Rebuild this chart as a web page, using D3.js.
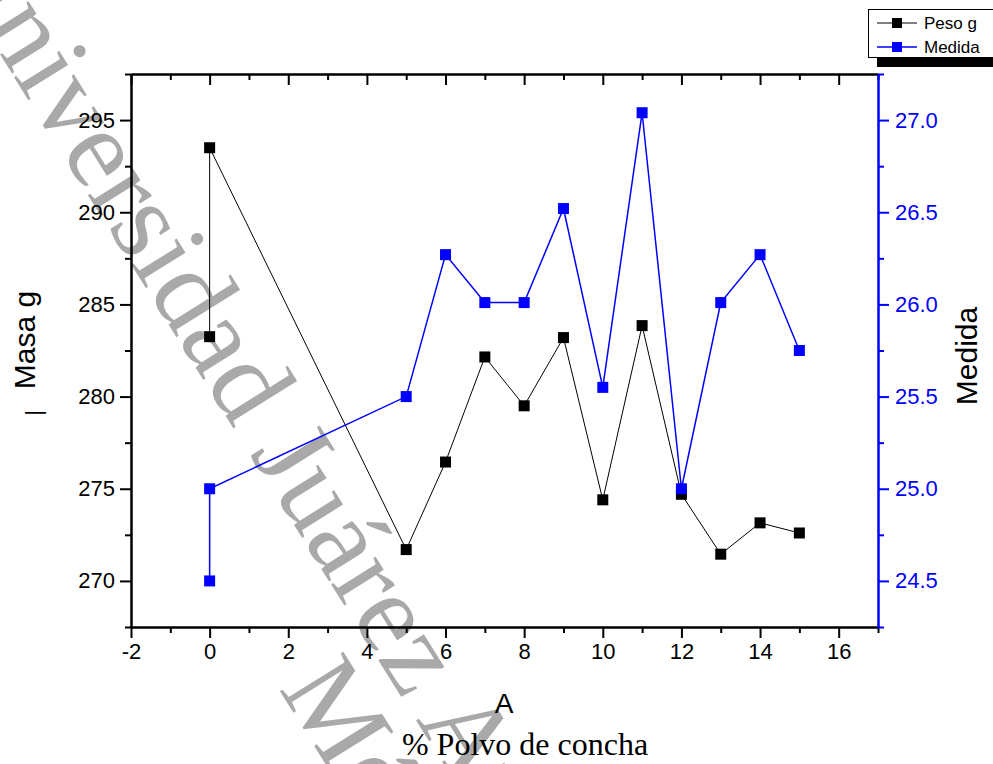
<!DOCTYPE html>
<html><head><meta charset="utf-8">
<script src="https://cdn.jsdelivr.net/npm/d3@7/dist/d3.min.js"></script>
<style>body{margin:0;background:#fff}svg{display:block}</style>
</head><body><svg id="c" width="993" height="764"></svg>
<script>
// ---- data ----
const xPct = [0, 0, 5, 6, 7, 8, 9, 10, 11, 12, 13, 14, 15];
const pesoG = [283.25, 293.5, 271.7, 276.45, 282.15, 279.5, 283.2, 274.4, 283.85, 274.7, 271.45, 273.15, 272.6];
const medida = [24.5, 25.0, 25.5, 26.27, 26.01, 26.01, 26.52, 25.55, 27.04, 25.0, 26.01, 26.27, 25.75];
const xTicks = [-2, 0, 2, 4, 6, 8, 10, 12, 14, 16];
const leftTicks = [270, 275, 280, 285, 290, 295];
const rightTicks = [24.5, 25.0, 25.5, 26.0, 26.5, 27.0];
const seriesNames = ["Peso g", "Medida"];
const watermarkLines = ["Universidad Juárez Autónoma de Tabasco", "México"];

const svg = d3.select("#c");
const L = 131, R = 878, T = 74, B = 627;
const x = d3.scaleLinear().domain([-2, 17]).range([L, R]);
const yL = d3.scaleLinear().domain([267.5, 297.5]).range([B, T]);
const yR = d3.scaleLinear().domain([24.25, 27.25]).range([B, T]);
const sans = "'Liberation Sans', Arial, sans-serif";
const serif = "'Liberation Serif', 'Times New Roman', serif";

// ---- watermark (behind) ----
const wm = svg.append("g").attr("transform", "translate(-61,-43) rotate(58)")
  .attr("font-family", serif).attr("font-size", 114).attr("fill", "#a9a9a9");
wm.append("text").attr("x", 0).attr("y", 0).text(watermarkLines[0]);
wm.append("text").attr("x", 800).attr("y", 100).text(watermarkLines[1]);

// ---- axes ----
function styleAxis(g, color) {
  g.select(".domain").attr("stroke", color).attr("stroke-width", 2);
  g.selectAll(".tick line").attr("stroke", color).attr("stroke-width", 2);
  g.selectAll(".tick text").attr("fill", color).attr("font-family", sans).attr("font-size", 22);
}
const minorX = d3.range(-1, 18, 2);
// bottom
svg.append("g").attr("transform", `translate(0,${B})`)
  .call(d3.axisBottom(x).tickValues(minorX).tickSize(6).tickFormat("").tickSizeOuter(0))
  .call(g => styleAxis(g, "#000"));
svg.append("g").attr("transform", `translate(0,${B})`)
  .call(d3.axisBottom(x).tickValues(xTicks).tickSize(11).tickPadding(5).tickFormat(d => String(d)).tickSizeOuter(0))
  .call(g => styleAxis(g, "#000"));
// top
svg.append("g").attr("transform", `translate(0,${T})`)
  .call(d3.axisTop(x).tickValues(minorX).tickSize(-6).tickFormat("").tickSizeOuter(0))
  .call(g => styleAxis(g, "#000"));
svg.append("g").attr("transform", `translate(0,${T})`)
  .call(d3.axisTop(x).tickValues(xTicks).tickSize(-11).tickFormat("").tickSizeOuter(0))
  .call(g => styleAxis(g, "#000"));
// left
svg.append("g").attr("transform", `translate(${L},0)`)
  .call(d3.axisLeft(yL).tickValues(d3.range(267.5, 298, 5)).tickSize(6).tickFormat("").tickSizeOuter(0))
  .call(g => styleAxis(g, "#000"));
svg.append("g").attr("transform", `translate(${L},0)`)
  .call(d3.axisLeft(yL).tickValues(leftTicks).tickSize(11).tickPadding(5).tickFormat(d3.format("d")).tickSizeOuter(0))
  .call(g => styleAxis(g, "#000"));
// right
svg.append("g").attr("transform", `translate(${R},0)`)
  .call(d3.axisRight(yR).tickValues(d3.range(24.25, 27.3, 0.5)).tickSize(6).tickFormat("").tickSizeOuter(0))
  .call(g => styleAxis(g, "#0000ff"));
svg.append("g").attr("transform", `translate(${R},0)`)
  .call(d3.axisRight(yR).tickValues(rightTicks).tickSize(11).tickPadding(6).tickFormat(d3.format(".1f")).tickSizeOuter(0))
  .call(g => styleAxis(g, "#0000ff"));

// ---- series ----
const idx = d3.range(xPct.length);
const lineP = d3.line().x(i => x(xPct[i])).y(i => yL(pesoG[i]));
const lineM = d3.line().x(i => x(xPct[i])).y(i => yR(medida[i]));
svg.append("path").attr("d", lineP(idx)).attr("fill", "none").attr("stroke", "#000").attr("stroke-width", 1);
svg.append("g").selectAll("rect").data(idx).join("rect")
  .attr("x", i => x(xPct[i]) - 5.5).attr("y", i => yL(pesoG[i]) - 5.5)
  .attr("width", 11).attr("height", 11).attr("fill", "#000");
svg.append("path").attr("d", lineM(idx)).attr("fill", "none").attr("stroke", "#0000ff").attr("stroke-width", 1.5);
svg.append("g").selectAll("rect").data(idx).join("rect")
  .attr("x", i => x(xPct[i]) - 5.5).attr("y", i => yR(medida[i]) - 5.5)
  .attr("width", 11).attr("height", 11).attr("fill", "#0000ff");

// ---- axis titles ----
svg.append("text").attr("transform", "translate(35,340) rotate(-90)").attr("text-anchor", "middle")
  .attr("font-family", sans).attr("font-size", 30).text("Masa g");
svg.append("text").attr("transform", "translate(41,413) rotate(-90)").attr("text-anchor", "middle")
  .attr("font-family", sans).attr("font-size", 22).text("|");
svg.append("text").attr("transform", "translate(977,356) rotate(-90)").attr("text-anchor", "middle")
  .attr("font-family", sans).attr("font-size", 30).text("Medida");
svg.append("text").attr("x", 504).attr("y", 713).attr("text-anchor", "middle")
  .attr("font-family", sans).attr("font-size", 28).text("A");
svg.append("text").attr("x", 525).attr("y", 755).attr("text-anchor", "middle")
  .attr("font-family", serif).attr("font-size", 32).text("% Polvo de concha");

// ---- legend ----
const lg = svg.append("g");
lg.append("rect").attr("x", 877).attr("y", 57).attr("width", 120).attr("height", 10).attr("fill", "#000");
lg.append("rect").attr("x", 868.5).attr("y", 9.5).attr("width", 130).attr("height", 48).attr("fill", "#fff").attr("stroke", "#000");
const colors = ["#000", "#0000ff"];
seriesNames.forEach((n, k) => {
  const cy = 23 + k * 24;
  lg.append("line").attr("x1", 877).attr("x2", 917).attr("y1", cy).attr("y2", cy).attr("stroke", colors[k]).attr("stroke-width", k ? 1.5 : 1);
  lg.append("rect").attr("x", 892).attr("y", cy - 5).attr("width", 10).attr("height", 10).attr("fill", colors[k]);
  lg.append("text").attr("x", 924).attr("y", cy + 6).attr("font-family", sans).attr("font-size", 17).text(n);
});
</script></body></html>
